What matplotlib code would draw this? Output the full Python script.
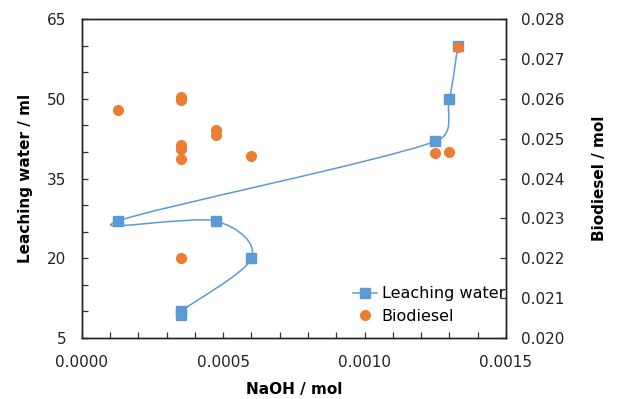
import numpy as np
import matplotlib.pyplot as plt
from matplotlib.path import Path
from matplotlib.patches import PathPatch
from matplotlib.ticker import MultipleLocator, FormatStrFormatter

# Leaching water series (left axis), in the order the smoothed line joins them
water_naoh = [0.00035, 0.00035, 0.00060, 0.000475, 0.000127, 0.00125, 0.00130, 0.00133]
water_ml = [9.3, 10.0, 20.0, 27.0, 27.0, 42.0, 50.0, 60.0]

# Biodiesel series (right axis)
bio_naoh = [0.000128, 0.00035, 0.00035, 0.000475, 0.000475, 0.00035, 0.00035, 0.00035,
            0.00060, 0.00125, 0.00130, 0.00133, 0.00035]
bio_mol = [0.02572, 0.02604, 0.02596, 0.02523, 0.02510, 0.02483, 0.02475, 0.02450,
           0.02456, 0.02463, 0.02467, 0.02731, 0.02200]

left_ticks = [5, 20, 35, 50, 65]

blue = "#5B9BD5"
orange = "#ED7D31"


def smooth_path(ax, xs, ys):
    # spreadsheet-style smoothed line: bezier with 1/6 tangents,
    # capped at half the segment length (worked out in pixels)
    tr = ax.transData
    pts = tr.transform(np.column_stack([xs, ys]))
    n = len(pts)

    def cap(t, seg):
        L = np.hypot(*t)
        lim = np.hypot(*seg) / 2.0
        return t * (lim / L) if L > lim and L > 0 else t

    verts = [pts[0]]
    codes = [Path.MOVETO]
    for i in range(n - 1):
        p0 = pts[max(i - 1, 0)]
        p1 = pts[i]
        p2 = pts[i + 1]
        p3 = pts[min(i + 2, n - 1)]
        c1 = p1 + cap((p2 - p0) / 6.0, p2 - p1)
        c2 = p2 - cap((p3 - p1) / 6.0, p2 - p1)
        verts += [c1, c2, p2]
        codes += [Path.CURVE4] * 3
    verts = tr.inverted().transform(np.array(verts))
    return Path(verts, codes)


plt.rcParams['font.family'] = 'DejaVu Sans'
plt.rcParams['font.size'] = 11

fig = plt.figure(figsize=(6.2, 3.99), dpi=100)
ax = fig.add_axes([0.132, 0.153, 0.684, 0.799])
ax2 = ax.twinx()

ax.set_xlim(0, 0.0015)
ax.set_ylim(5, 65)
ax2.set_ylim(0.020, 0.028)

ax.add_patch(PathPatch(smooth_path(ax, water_naoh, water_ml), fill=False,
                       edgecolor=blue, lw=1.1, zorder=2))
ax.plot(water_naoh, water_ml, ls='none', marker='s', ms=6.5, color=blue, zorder=3)
ax2.plot(bio_naoh, bio_mol, ls='none', marker='o', ms=7, color=orange, zorder=3)

ax.xaxis.set_major_locator(MultipleLocator(0.0005))
ax.xaxis.set_minor_locator(MultipleLocator(0.0001))
ax.xaxis.set_major_formatter(FormatStrFormatter('%.4f'))
ax.set_yticks(left_ticks)
ax.yaxis.set_minor_locator(MultipleLocator(5))
ax2.yaxis.set_major_locator(MultipleLocator(0.001))
ax2.yaxis.set_major_formatter(FormatStrFormatter('%.3f'))

for a in (ax, ax2):
    a.tick_params(which='both', direction='in', length=4, width=0.9,
                  color='#333333', labelsize=11, labelcolor='#222222')
    a.tick_params(axis='x', pad=12)
    a.tick_params(axis='y', pad=11)
    for s in a.spines.values():
        s.set_linewidth(1.0)
        s.set_color('#222222')

ax.set_xlabel('NaOH / mol', fontweight='bold', fontsize=11, labelpad=9)
ax.set_ylabel('Leaching water / ml', fontweight='bold', fontsize=11, labelpad=10)
ax2.set_ylabel('Biodiesel / mol', fontweight='bold', fontsize=11, labelpad=20)

h1 = plt.Line2D([], [], color=blue, lw=1.1, marker='s', ms=6.5)
h2 = plt.Line2D([], [], ls='none', color=orange, marker='o', ms=7)
ax2.legend([h1, h2], ['Leaching water', 'Biodiesel'], frameon=False,
           loc='lower left', bbox_to_anchor=(0.605, 0.0), fontsize=11.5,
           handlelength=1.5, handletextpad=0.3, labelspacing=0.45,
           borderaxespad=0.5)

fig.savefig('out.png', dpi=100)
